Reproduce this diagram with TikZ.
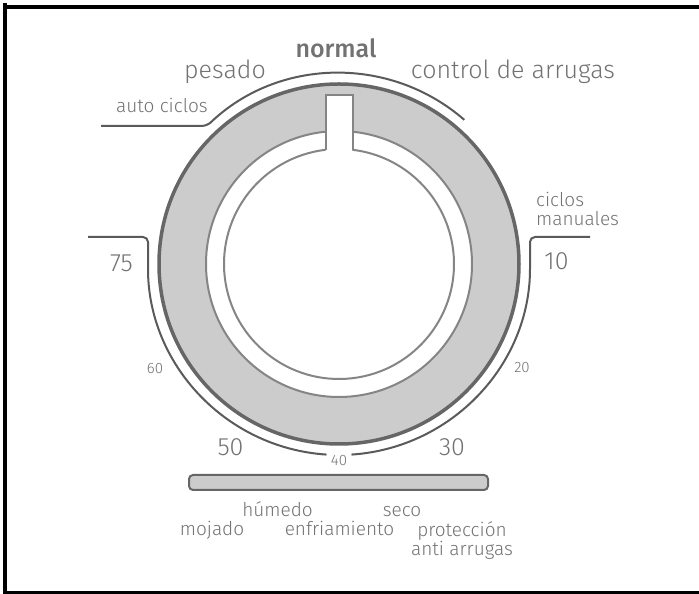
\documentclass[tikz,border=0pt]{standalone}
\usepackage{fontspec}
\setmainfont{Fira Sans}[UprightFont={* Light}, BoldFont={* Medium}]
\usetikzlibrary{calc}
\definecolor{txt}{HTML}{727272}
\definecolor{dialfill}{HTML}{CCCCCC}
\definecolor{outerc}{HTML}{666666}
\definecolor{ringc}{HTML}{858585}
\definecolor{scalec}{HTML}{5A5A5A}
\begin{document}
\begin{tikzpicture}[x=1pt,y=1pt,
  lbl/.style={text=txt, inner sep=0pt, anchor=base},
  big/.style={lbl, font=\fontsize{25}{28}\selectfont},
  mid/.style={lbl, font=\fontsize{19}{21}\selectfont},
  small/.style={lbl, font=\fontsize{15}{17}\selectfont},
  scaleline/.style={draw=scalec, line width=2pt, rounded corners=5pt},
  ringline/.style={draw=ringc, line width=2pt},
  outerline/.style={draw=outerc, line width=3.5pt},
  frameline/.style={draw=black, line width=4pt},
  barbox/.style={draw=outerc, fill=dialfill, line width=2pt, rounded corners=4pt}]
\useasboundingbox (0,0) rectangle (699,594);
% frame
\coordinate (f1) at (5.3,590.7);
\coordinate (f2) at (5.3,-1);
\coordinate (f3) at (3.3,587.3);
\coordinate (f4) at (702,587.3);
\coordinate (f5) at (3.3,1.3);
\coordinate (f6) at (702,1.3);
\draw[frameline] (f1) -- (f2);
\draw[frameline] (f3) -- (f4);
\draw[frameline, line width=3.5pt] (f5) -- (f6);
% dial
\coordinate (C) at (339,330);
\fill[dialfill] (C) circle[radius=180];
\fill[white] (C) circle[radius=133];
\fill[white] (325.5,440) rectangle (353,499);
\draw[ringline] ($(C)+(95.8:133)$) arc[start angle=95.8, end angle=444.2, radius=133];
\draw[ringline] ($(C)+(96.7:115)$) arc[start angle=96.7, end angle=443.3, radius=115];
\coordinate (s1) at (325.5,444.2);
\coordinate (s2) at (325.5,499);
\coordinate (s3) at (353,499);
\coordinate (s4) at (353,444.2);
\draw[ringline] (s1) -- (s2) -- (s3) -- (s4);
\draw[outerline] (C) circle[radius=180];
% scale lines
\coordinate (a0) at (101,468);
\draw[scaleline] (a0) -- ($(C)+(133.7:191)$) arc[start angle=133.7, end angle=49, radius=191];
\coordinate (l0) at (88,357);
\coordinate (l1) at (148,357);
\draw[scaleline] (l0) -- (l1) -- ($(C)+(180:191)$) arc[start angle=180, end angle=266.25, radius=191];
\coordinate (r1) at (530,357);
\coordinate (r0) at (590,357);
\draw[scaleline] ($(C)+(273.75:191)$) arc[start angle=273.75, end angle=360, radius=191] -- (r1) -- (r0);
% bar
\draw[barbox] (189,104) rectangle (488,119);
% labels
\node[big] (pesado) at (225,515) {pesado};
\node[big, font=\fontsize{25}{28}\selectfont\bfseries] (normal) at (336,536.5) {normal};
\node[big] (control) at (513,515) {control de arrugas};
\node[mid] (auto) at (162,481) {auto ciclos};
\node[mid, anchor=base west] (ciclos) at (536,387) {ciclos};
\node[mid, anchor=base west] (manuales) at (536,368) {manuales};
\node[big] (n75) at (121.5,322) {75};
\node[big] (n10) at (556.5,324) {10};
\node[small] (n60) at (155,220) {60};
\node[small] (n20) at (522,221) {20};
\node[big] (n50) at (230.5,138) {50};
\node[big] (n30) at (452,138) {30};
\node[small] (n40) at (339,128) {40};
\node[mid] (humedo) at (277.5,77) {húmedo};
\node[mid] (seco) at (402,77) {seco};
\node[mid] (mojado) at (212,58) {mojado};
\node[mid] (enfr) at (339.5,58) {enfriamiento};
\node[mid] (prot) at (462,57) {protección};
\node[mid] (anti) at (462,38.5) {anti arrugas};
\end{tikzpicture}
\end{document}
